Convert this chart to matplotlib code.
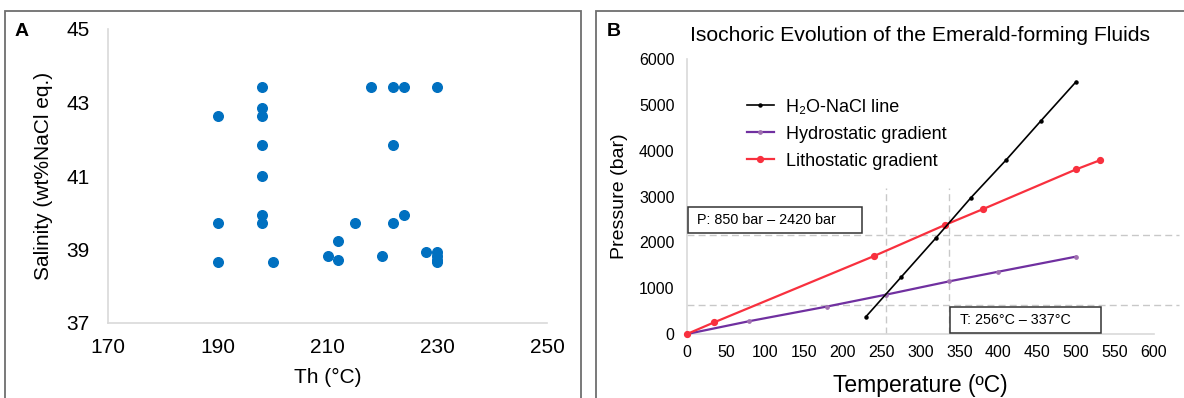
import matplotlib
matplotlib.use("Agg")
import matplotlib.pyplot as plt
from matplotlib.patches import Rectangle

plt.rcParams['font.family'] = ['Liberation Sans', 'DejaVu Sans']

# Panel A: homogenization temperature vs salinity
th = [190, 190, 190,
      198, 198, 198, 198, 198, 198, 198,
      200, 210, 212, 212, 215, 218, 220,
      222, 222, 222, 224, 224, 228,
      230, 230, 230, 230, 230]
salinity = [42.62, 39.72, 38.65,
            43.43, 42.84, 42.62, 41.84, 40.99, 39.94, 39.72,
            38.65, 38.83, 39.22, 38.72, 39.72, 43.43, 38.83,
            43.43, 41.84, 39.72, 43.43, 39.94, 38.93,
            43.43, 38.93, 38.83, 38.72, 38.65]

# Panel B: isochores and gradients
h2o_t = [230, 275, 320, 365, 410, 455, 500]
h2o_p = [380, 1240, 2100, 2980, 3800, 4660, 5510]
hydro_t = [0, 80, 180, 256, 337, 400, 500]
hydro_p = [0, 280, 600, 860, 1150, 1360, 1690]
litho_t = [0, 35, 240, 332, 380, 500, 530]
litho_p = [0, 255, 1700, 2385, 2725, 3595, 3790]
t_range = [256, 337]
p_guides = [630, 2160]

fig = plt.figure(figsize=(11.84, 3.98), dpi=100)

# panel frames
fig.add_artist(Rectangle((5 / 1184, -0.1), 576 / 1184, 1.1 - 11 / 398,
                         transform=fig.transFigure, fill=False,
                         edgecolor='#6e6e6e', lw=1.3))
fig.add_artist(Rectangle((596 / 1184, -0.1), 0.6, 1.1 - 11 / 398,
                         transform=fig.transFigure, fill=False,
                         edgecolor='#6e6e6e', lw=1.3))
fig.text(22 / 1184, 1 - 31 / 398, 'A', fontsize=14, fontweight='bold',
         ha='center', va='center')
fig.text(614 / 1184, 1 - 31 / 398, 'B', fontsize=14, fontweight='bold',
         ha='center', va='center')

grid_grey = '#d9d9d9'

# ---- A ----
axA = fig.add_axes([108 / 1184, 1 - 323 / 398, 439 / 1184, 294 / 398])
axA.scatter(th, salinity, s=48, color='#0070c0', zorder=3, clip_on=False)
axA.set_xlim(170, 250)
axA.set_ylim(37, 45)
axA.set_xticks(range(170, 251, 20))
axA.set_yticks(range(37, 46, 2))
for s in ['top', 'right']:
    axA.spines[s].set_visible(False)
for s in ['left', 'bottom']:
    axA.spines[s].set_color(grid_grey)
    axA.spines[s].set_linewidth(1.2)
axA.tick_params(axis='both', length=0, labelsize=15)
axA.tick_params(axis='y', pad=13)
axA.tick_params(axis='x', pad=11)
axA.set_xlabel('Th (°C)', fontsize=15, labelpad=8)
axA.set_ylabel('Salinity (wt%NaCl eq.)', fontsize=15, labelpad=10)

# ---- B ----
axB = fig.add_axes([687 / 1184, 1 - 334 / 398, 467 / 1184, 274.8 / 398])
axB.set_xlim(0, 600)
axB.set_ylim(0, 6000)

for t in t_range:
    axB.plot([t, t], [0, 3190], color='#c8c8c8', lw=1, dashes=(5, 3), zorder=1)
for p in p_guides:
    axB.plot([0, 632], [p, p], color='#c8c8c8', lw=1, dashes=(5, 3),
             zorder=1, clip_on=False)

axB.plot(h2o_t, h2o_p, color='black', lw=1.2, marker='o', ms=2.2,
         label='H₂O-NaCl line', zorder=4)
axB.plot(hydro_t, hydro_p, color='#7030a0', lw=1.6, marker='o', ms=2.4,
         mfc='#a070b0', mec='#a070b0', label='Hydrostatic gradient',
         zorder=3, clip_on=False)
axB.plot(litho_t, litho_p, color='#f8303e', lw=1.6, marker='o', ms=4.2,
         label='Lithostatic gradient', zorder=3, clip_on=False)

axB.add_patch(Rectangle((1, 2205), 224, 568, fill=False, edgecolor='#333333',
                        lw=1.1, zorder=5, clip_on=False))
axB.text(13, 2490, 'P: 850 bar – 2420 bar', fontsize=10.4, va='center',
         ha='left', zorder=6)
axB.add_patch(Rectangle((338, 22), 194, 568, facecolor='white',
                        edgecolor='#333333', lw=1.1, zorder=5, clip_on=False))
axB.text(351, 305, 'T: 256°C – 337°C', fontsize=10.3, va='center',
         ha='left', zorder=6)

axB.set_xticks(range(0, 601, 50))
axB.set_yticks(range(0, 6001, 1000))
for s in ['top', 'right']:
    axB.spines[s].set_visible(False)
for s in ['left', 'bottom']:
    axB.spines[s].set_color(grid_grey)
    axB.spines[s].set_linewidth(1.2)
axB.tick_params(axis='both', length=0, labelsize=11.5)
axB.tick_params(axis='y', pad=9)
axB.tick_params(axis='x', pad=8)
axB.set_xlabel('Temperature (ºC)', fontsize=16.5, labelpad=10)
axB.set_ylabel('Pressure (bar)', fontsize=14, labelpad=8)
axB.set_title('Isochoric Evolution of the Emerald-forming Fluids',
              fontsize=15.2, pad=13)

axB.legend(loc='upper left', bbox_to_anchor=(0.093, 0.915), frameon=False,
           fontsize=13, handlelength=1.5, handletextpad=0.65,
           labelspacing=0.55)

fig.savefig('out.png', dpi=100)
